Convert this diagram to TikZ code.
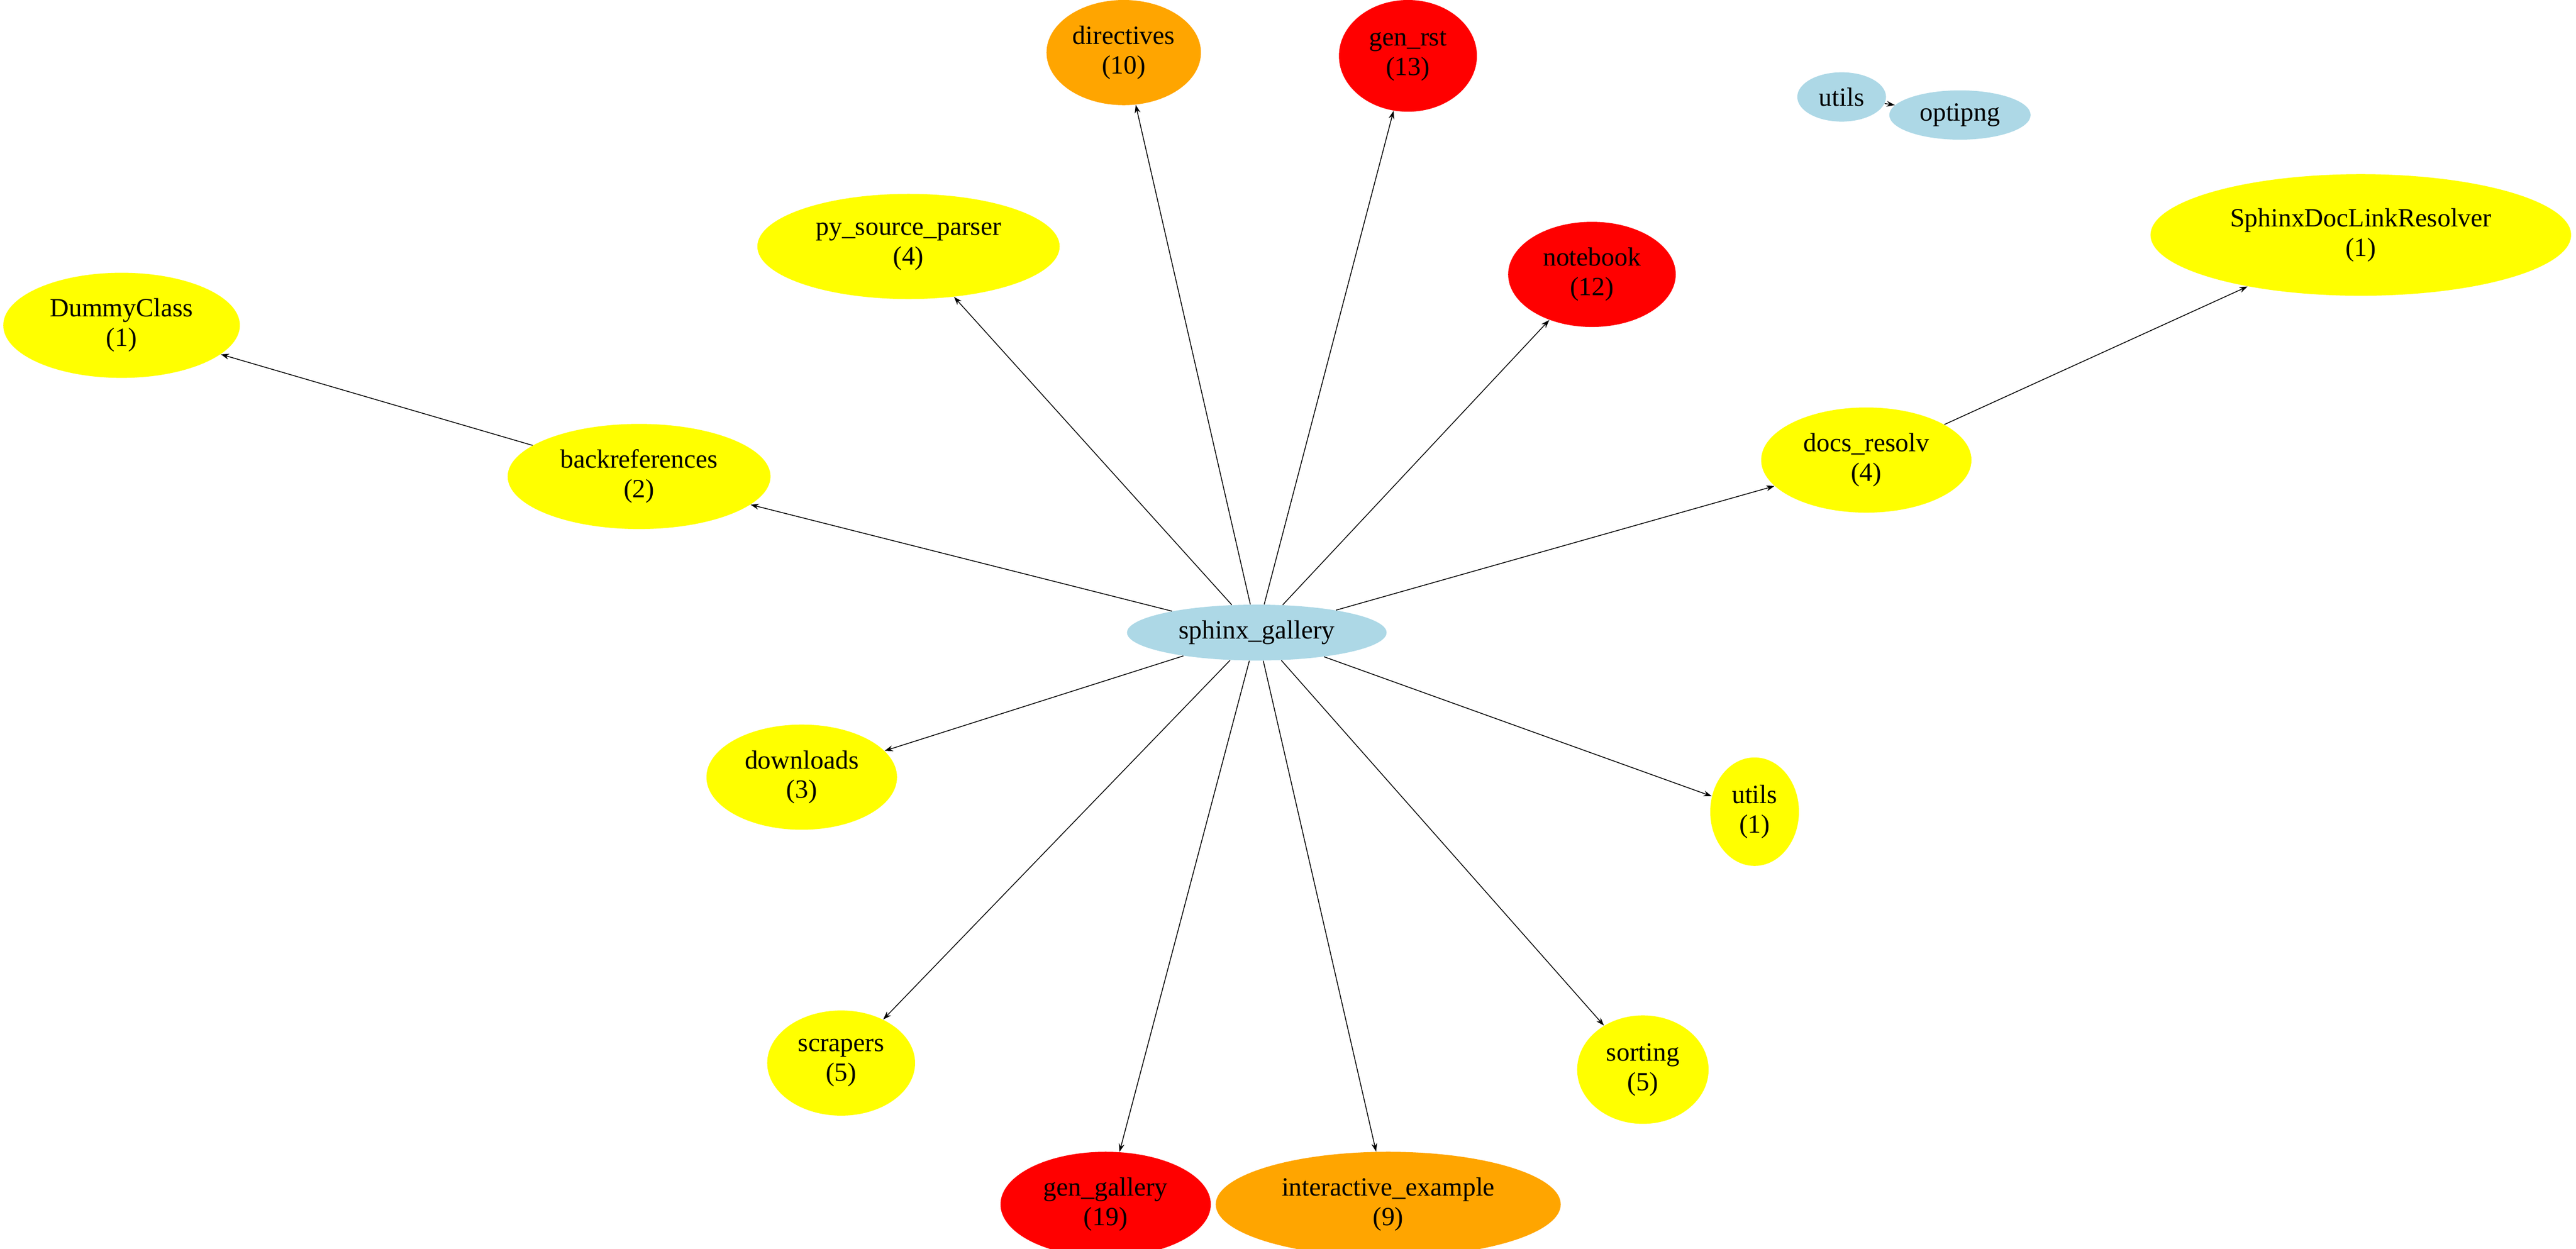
\documentclass[tikz,border=0pt]{standalone}
\usepackage{fontspec}
\setmainfont{Liberation Serif}
\usetikzlibrary{shapes.geometric,arrows.meta}
\definecolor{cy}{HTML}{FFFF00}
\definecolor{co}{HTML}{FFA500}
\definecolor{cr}{HTML}{FF0000}
\definecolor{cb}{HTML}{ADD8E6}
\begin{document}
\begin{tikzpicture}[x=1pt,y=-1pt,
  el/.style={ellipse,inner sep=0pt,align=center,font=\fontsize{16}{18}\selectfont},
  yel/.style={el,fill=cy},ora/.style={el,fill=co},rd/.style={el,fill=cr},blu/.style={el,fill=cb},
  ar/.style={-{Stealth[length=5pt,width=3.5pt]},line width=0.5pt}]
\useasboundingbox (0,0) rectangle (1568,760);
\newcommand\nd[6]{\node[#1,minimum width=#4*2pt,minimum height=#5*2pt] (#2) at (#3) {#6};}
\nd{ora}{dir}{684,32}{47}{32}{directives\\(10)}
\nd{rd}{rst}{857,34}{42}{34}{gen\_rst\\(13)}
\nd{blu}{ut}{1121,59}{27}{15}{utils}
\nd{blu}{opt}{1193,70}{43}{15}{optipng}
\nd{yel}{psp}{553,150}{92}{32}{py\_source\_parser\\(4)}
\nd{rd}{nb}{969,167}{51}{32}{notebook\\(12)}
\nd{yel}{sdl}{1437,143}{128}{37}{SphinxDocLinkResolver\\(1)}
\nd{yel}{dc}{74,198}{72}{32}{DummyClass\\(1)}
\nd{yel}{br}{389,290}{80}{32}{backreferences\\(2)}
\nd{yel}{dr}{1136,280}{64}{32}{docs\_resolv\\(4)}
\nd{blu}{sg}{765,385}{79}{17}{sphinx\_gallery}
\nd{yel}{dl}{488,473}{58}{32}{downloads\\(3)}
\nd{yel}{u1}{1068,494}{27}{33}{utils\\(1)}
\nd{yel}{sc}{512,647}{45}{32}{scrapers\\(5)}
\nd{yel}{so}{1000,651}{40}{33}{sorting\\(5)}
\nd{rd}{gg}{673,733}{64}{32}{gen\_gallery\\(19)}
\nd{ora}{ie}{845,733}{105}{32}{interactive\_example\\(9)}
\draw[ar] (ut) -- (opt);
\draw[ar] (br) -- (dc);
\draw[ar] (dr) -- (sdl);
\foreach \t in {dir,rst,psp,nb,br,dr,dl,u1,sc,so,gg,ie}
  \draw[ar] (sg) -- (\t);
\end{tikzpicture}
\end{document}
